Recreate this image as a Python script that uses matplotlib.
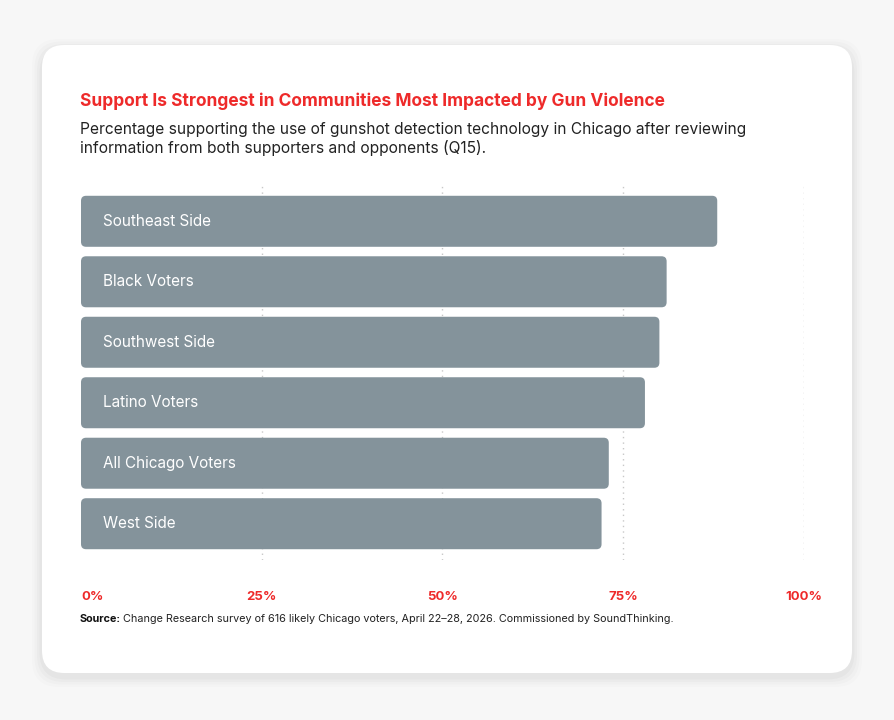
import matplotlib.pyplot as plt
from matplotlib.patches import FancyBboxPatch

groups = ['Southeast Side', 'Black Voters', 'Southwest Side', 'Latino Voters',
          'All Chicago Voters', 'West Side']
support = [88, 81, 80, 78, 73, 72]
ticks = [0, 25, 50, 75, 100]
tick_labels = ['0%', '25%', '50%', '75%', '100%']

RED = '#ee2a2a'
BAR = '#84939b'
W, H = 895, 720

plt.rcParams['font.family'] = ['Inter', 'DejaVu Sans']
fig = plt.figure(figsize=(W / 100, H / 100), dpi=100)
fig.patch.set_facecolor('#f7f7f7')

# ── card with soft shadow ──
for i, a in enumerate([0.012, 0.015, 0.02, 0.025]):
    g = 10 - 2.5 * i
    fig.patches.append(FancyBboxPatch(((42 - g) / W, 1 - (673 + g + 4) / H),
                                      (810 + 2 * g) / W, (628 + 2 * g) / H,
                                      boxstyle='round,pad=0,rounding_size=0.03',
                                      transform=fig.transFigure, fc='black', ec='none',
                                      alpha=a, mutation_aspect=W / H))
fig.patches.append(FancyBboxPatch((42 / W, 1 - 673 / H), 810 / W, 628 / H,
                                  boxstyle='round,pad=0,rounding_size=0.025',
                                  transform=fig.transFigure, fc='white', ec='none',
                                  mutation_aspect=W / H))

fig.text(80 / W, 1 - 101 / H, 'Support Is Strongest in Communities Most Impacted by Gun Violence',
         color=RED, fontsize=12.5, fontweight='bold', va='center')
fig.text(80 / W, 1 - 139 / H,
         'Percentage supporting the use of gunshot detection technology in Chicago after reviewing\n'
         'information from both supporters and opponents (Q15).',
         color='#222222', fontsize=11.2, va='center', linespacing=1.25)
fig.text(80 / W, 1 - 619 / H, 'Source:', fontsize=7.8, color='#111111',
         va='center', fontweight='bold')
fig.text(123 / W, 1 - 619 / H, 'Change Research survey of 616 likely Chicago voters, '
         'April 22–28, 2026. Commissioned by SoundThinking.', fontsize=7.8, color='#222222',
         va='center')

# ── bars ──
ax = fig.add_axes([81 / W, 1 - 560 / H, 723 / W, 375 / H])
ax.set_zorder(5)
ax.set_facecolor('none')
n = len(groups)
ax.set_xlim(0, 100)
ax.set_ylim(n - 0.5 + 0.1, -0.5 - 0.1)
for t in ticks[1:]:
    ax.axvline(t, color='#c8c8c8', lw=1, ls=(0, (1, 3)), zorder=0)
xpx = 723 / 100
ypx = 375 / (n + 0.2)
for i, (g, v) in enumerate(zip(groups, support)):
    h = 51 / ypx
    ax.add_patch(FancyBboxPatch((0, i - h / 2), v, h,
                                boxstyle='round,pad=0,rounding_size=0.7',
                                mutation_aspect=xpx / ypx, fc=BAR, ec='none', zorder=2))
    ax.text(3, i, g, color='white', fontsize=11, va='center', zorder=3)

ax.set_yticks([])
ax.set_xticks(ticks)
ax.set_xticklabels(tick_labels, color=RED, fontweight='bold', fontsize=9.5)
ax.get_xticklabels()[0].set_ha('left')
ax.tick_params(axis='x', length=0, pad=22)
for s in ax.spines.values():
    s.set_visible(False)

fig.savefig('out.png', dpi=100, facecolor=fig.get_facecolor())
